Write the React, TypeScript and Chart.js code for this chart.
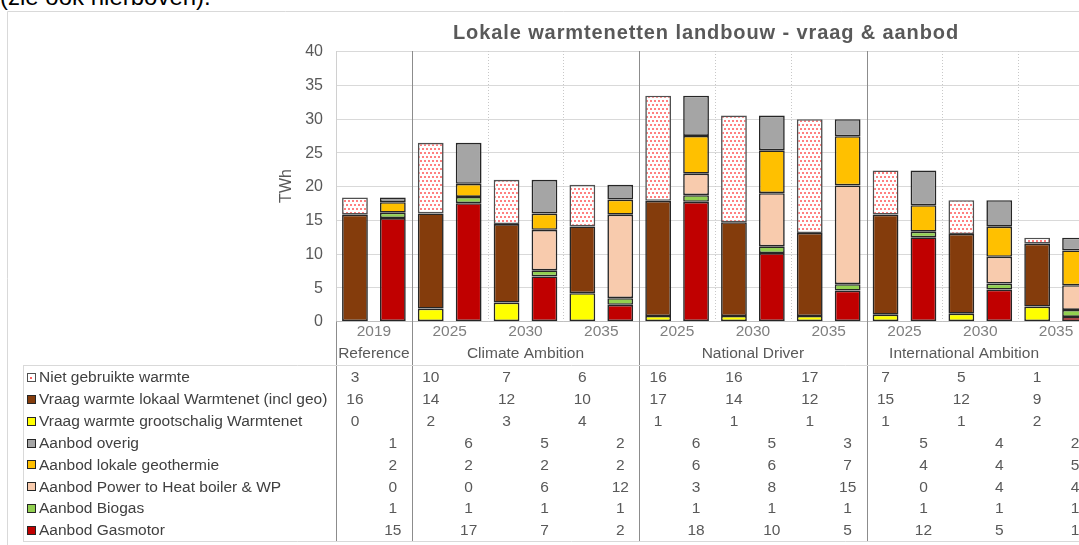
import React, { useEffect, useRef } from 'react';
import { Chart, registerables } from 'chart.js';
Chart.register(...registerables);

// ---------- data ----------
const years = ['2019', '2025', '2030', '2035', '2025', '2030', '2035', '2025', '2030', '2035'];
const scenarios = ['Reference', 'Climate Ambition', 'National Driver', 'International Ambition'];
const scenarioSizes = [1, 3, 3, 3];
const yTicks = [0, 5, 10, 15, 20, 25, 30, 35, 40];

// demand (vraag)
const vraagGrootschalig = [0, 1.84, 2.73, 4.12, 0.74, 0.74, 0.74, 0.94, 1.09, 2.13];
const vraagLokaal = [15.75, 14.1, 11.63, 9.89, 17.06, 13.89, 12.3, 14.83, 11.8, 9.32];
const nietGebruikt = [2.55, 10.45, 6.56, 6.16, 15.57, 15.81, 16.86, 6.54, 5.01, 0.89];
// supply (aanbod)
const aanbodGasmotor = [15.25, 17.45, 6.61, 2.39, 17.65, 10.07, 4.51, 12.4, 4.66, 0.6];
const aanbodBiogas = [0.8, 0.93, 0.9, 0.99, 0.99, 0.99, 0.94, 0.84, 0.89, 1.04];
const aanbodP2H = [0, 0, 6.0, 12.37, 3.18, 7.88, 14.63, 0, 3.97, 3.66];
const aanbodGeo = [1.55, 1.94, 2.4, 2.24, 5.6, 6.35, 7.29, 3.91, 4.46, 5.16];
const aanbodOverig = [0.7, 6.07, 5.0, 2.18, 5.95, 5.15, 2.53, 5.16, 3.92, 1.88];

// ---------- layout / style ----------
const W = 1120;
const H = 545;
const PLOT = { left: 336, top: 51, right: 1094, bottom: 321 };
const FONT = '"Liberation Sans", Arial, sans-serif';
const TABLE = { left: 23, top: 365, bottom: 541, row0: 377, rowStep: 21.86, labelX: 39 };
const EDGE = '#262626';

function spread(values: number[], side: number): (number | null)[] {
  const out: (number | null)[] = [];
  values.forEach((v) => {
    if (side === 0) { out.push(v); out.push(null); } else { out.push(null); out.push(v); }
  });
  return out;
}

function makePattern(): CanvasPattern | string {
  const c = document.createElement('canvas');
  c.width = 4; c.height = 8;
  const p = c.getContext('2d');
  if (!p) return '#fde0e0';
  p.fillStyle = '#ffffff';
  p.fillRect(0, 0, 4, 8);
  p.fillStyle = '#ff8080';
  p.fillRect(0, 0, 2, 2);
  p.fillRect(2, 4, 2, 2);
  const pat = p.createPattern(c, 'repeat');
  return pat || '#fde0e0';
}

export default function App() {
  const ref = useRef<HTMLCanvasElement>(null);

  useEffect(() => {
    const canvas = ref.current;
    if (!canvas) return;
    const pattern = makePattern();
    const labels: string[] = [];
    years.forEach((y) => { labels.push(y + ' vraag'); labels.push(y + ' aanbod'); });

    const series = [
      { key: 'groot', label: 'Vraag warmte grootschalig Warmtenet', vals: vraagGrootschalig, side: 0, color: '#FFFF00', border: EDGE },
      { key: 'lokaal', label: 'Vraag warmte lokaal Warmtenet (incl geo)', vals: vraagLokaal, side: 0, color: '#843C0C', border: EDGE },
      { key: 'niet', label: 'Niet gebruikte warmte', vals: nietGebruikt, side: 0, color: pattern, border: '#505050' },
      { key: 'gas', label: 'Aanbod Gasmotor', vals: aanbodGasmotor, side: 1, color: '#C00000', border: EDGE },
      { key: 'bio', label: 'Aanbod Biogas', vals: aanbodBiogas, side: 1, color: '#92D050', border: EDGE },
      { key: 'p2h', label: 'Aanbod Power to Heat boiler & WP', vals: aanbodP2H, side: 1, color: '#F8CBAD', border: EDGE },
      { key: 'geo', label: 'Aanbod lokale geothermie', vals: aanbodGeo, side: 1, color: '#FFC000', border: EDGE },
      { key: 'overig', label: 'Aanbod overig', vals: aanbodOverig, side: 1, color: '#A5A5A5', border: EDGE },
    ];
    const tableOrder = ['niet', 'lokaal', 'groot', 'overig', 'geo', 'p2h', 'bio', 'gas'];

    const line = (ctx: CanvasRenderingContext2D, x1: number, y1: number, x2: number, y2: number) => {
      ctx.beginPath(); ctx.moveTo(x1, y1); ctx.lineTo(x2, y2); ctx.stroke();
    };

    const decor = {
      id: 'decor',
      beforeDatasetsDraw(chart: any) {
        const { ctx, scales } = chart;
        const xs = scales.x, ys = scales.y;
        ctx.save();
        ctx.lineWidth = 1;
        // chart frame
        ctx.strokeStyle = '#d9d9d9';
        line(ctx, 7.5, H, 7.5, 11.5);
        line(ctx, 7.5, 11.5, W, 11.5);
        // horizontal gridlines
        yTicks.forEach((v) => {
          if (v === 0) return;
          const py = Math.round(ys.getPixelForValue(v)) + 0.5;
          ctx.strokeStyle = '#d9d9d9';
          line(ctx, PLOT.left, py, W, py);
        });
        // baseline
        const y0 = Math.round(ys.getPixelForValue(0)) + 0.5;
        ctx.strokeStyle = '#bfbfbf';
        line(ctx, PLOT.left, y0, W, y0);
        // left edge
        ctx.strokeStyle = '#d0d0d0';
        line(ctx, PLOT.left + 0.5, PLOT.top, PLOT.left + 0.5, y0);
        ctx.strokeStyle = '#8c8c8c';
        line(ctx, PLOT.left + 0.5, y0, PLOT.left + 0.5, TABLE.bottom);
        // separators between year slots
        let slot = 0;
        scenarioSizes.forEach((n) => {
          for (let k = 0; k < n; k++) {
            const idx = slot * 2;
            if (idx > 0) {
              const bx = Math.round((xs.getPixelForValue(idx - 1) + xs.getPixelForValue(idx)) / 2) + 0.5;
              if (k === 0) {
                ctx.strokeStyle = '#8c8c8c';
                ctx.setLineDash([]);
                line(ctx, bx, PLOT.top, bx, TABLE.bottom);
              } else {
                ctx.strokeStyle = '#c8c8c8';
                ctx.setLineDash([1, 2]);
                line(ctx, bx, PLOT.top, bx, y0);
                ctx.setLineDash([]);
              }
            }
            slot++;
          }
        });
        ctx.restore();
      },
      afterDraw(chart: any) {
        const { ctx, scales } = chart;
        const xs = scales.x, ys = scales.y;
        ctx.save();
        // title
        ctx.fillStyle = '#595959';
        ctx.font = 'bold 20px ' + FONT;
        ctx.textAlign = 'center';
        ctx.textBaseline = 'middle';
        try { (ctx as any).letterSpacing = '0.9px'; } catch (e) { /* ignore */ }
        ctx.fillText('Lokale warmtenetten landbouw - vraag & aanbod', 706, 33);
        try { (ctx as any).letterSpacing = '0px'; } catch (e) { /* ignore */ }
        // y ticks
        ctx.font = '16px ' + FONT;
        ctx.textAlign = 'right';
        ctx.fillStyle = '#595959';
        yTicks.forEach((v) => {
          ctx.fillText(String(v), 323, ys.getPixelForValue(v) + 1);
        });
        // y title
        ctx.save();
        ctx.translate(287, (PLOT.top + PLOT.bottom) / 2);
        ctx.rotate(-Math.PI / 2);
        ctx.textAlign = 'center';
        ctx.fillText('TWh', 0, 0);
        ctx.restore();
        // year labels
        ctx.font = '15.5px ' + FONT;
        ctx.textAlign = 'center';
        ctx.fillStyle = '#7f7f7f';
        years.forEach((y, j) => {
          const cx = (xs.getPixelForValue(2 * j) + xs.getPixelForValue(2 * j + 1)) / 2;
          ctx.fillText(y, cx, 332);
        });
        // scenario labels
        ctx.fillStyle = '#595959';
        let slot = 0;
        scenarioSizes.forEach((n, g) => {
          const l = slot === 0 ? PLOT.left : (xs.getPixelForValue(slot * 2 - 1) + xs.getPixelForValue(slot * 2)) / 2;
          const lastIdx = (slot + n) * 2 - 1;
          const r = xs.getPixelForValue(lastIdx) + (xs.getPixelForValue(1) - xs.getPixelForValue(0)) / 2;
          let cx = (l + r) / 2;
          const tw = ctx.measureText(scenarios[g]).width;
          const visibleRight = 1079 - 40;
          if (cx + tw / 2 > visibleRight) cx = Math.max((l + visibleRight) / 2, visibleRight - tw / 2);
          ctx.fillText(scenarios[g], cx, 354);
          slot += n;
        });
        // table lines
        ctx.strokeStyle = '#d9d9d9';
        ctx.lineWidth = 1;
        line(ctx, TABLE.left, TABLE.top + 0.5, W, TABLE.top + 0.5);
        line(ctx, TABLE.left, TABLE.bottom + 0.5, W, TABLE.bottom + 0.5);
        line(ctx, TABLE.left + 0.5, TABLE.top, TABLE.left + 0.5, TABLE.bottom);
        // table rows
        tableOrder.forEach((key, r) => {
          const s = series.find((q) => q.key === key)!;
          const ry = TABLE.row0 + r * TABLE.rowStep;
          // legend key
          ctx.fillStyle = key === 'niet' ? '#ffffff' : (s.color as string);
          ctx.fillRect(27, Math.round(ry) - 4, 9, 9);
          if (key === 'niet') {
            ctx.fillStyle = '#ff6060';
            ctx.fillRect(30, Math.round(ry), 2, 2);
          }
          ctx.strokeStyle = s.border;
          ctx.strokeRect(27.5, Math.round(ry) - 3.5, 8, 8);
          // label
          ctx.fillStyle = '#404040';
          ctx.textAlign = 'left';
          ctx.font = '15.5px ' + FONT;
          ctx.fillText(s.label, TABLE.labelX, ry + 1);
          // values
          ctx.fillStyle = '#595959';
          ctx.textAlign = 'center';
          s.vals.forEach((v, j) => {
            const px = xs.getPixelForValue(2 * j + s.side);
            ctx.fillText(String(Math.round(v)), px, ry + 1);
          });
        });
        ctx.restore();
      },
    };

    const chart = new Chart(canvas, {
      type: 'bar',
      data: {
        labels,
        datasets: series.map((s) => ({
          label: s.label,
          data: spread(s.vals, s.side),
          backgroundColor: s.color as any,
          borderColor: s.border,
          borderWidth: 1.6,
          borderSkipped: false,
          barPercentage: 0.68,
          categoryPercentage: 1,
        })),
      },
      options: {
        responsive: false,
        animation: false,
        events: [],
        layout: { padding: { left: PLOT.left, top: PLOT.top, right: W - PLOT.right, bottom: H - PLOT.bottom } },
        plugins: { legend: { display: false }, tooltip: { enabled: false }, title: { display: false } },
        scales: {
          x: { display: false, stacked: true },
          y: { display: false, stacked: true, min: 0, max: 40 },
        },
      },
      plugins: [decor],
    });
    return () => chart.destroy();
  }, []);

  return (
    <div style={{ position: 'fixed', left: 0, top: 0, width: 1079, height: 545, overflow: 'hidden', background: '#fff' }}>
      <div style={{ position: 'absolute', left: 0, top: -15, font: '24px "Liberation Sans", Arial, sans-serif', lineHeight: '24px', color: '#000', whiteSpace: 'nowrap' }}>
        (zie ook hierboven).
      </div>
      <canvas ref={ref} width={W} height={H} style={{ position: 'absolute', left: 0, top: 0, width: W, height: H }} />
    </div>
  );
}
